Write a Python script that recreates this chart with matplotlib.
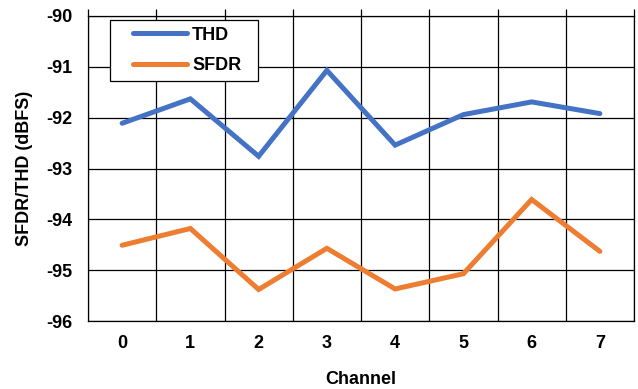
import matplotlib
matplotlib.use("Agg")
import matplotlib.pyplot as plt
from matplotlib.patches import Rectangle
import numpy as np

plt.rcParams['font.family'] = ['Liberation Sans', 'DejaVu Sans']
plt.rcParams['font.weight'] = 'bold'

channels = [0, 1, 2, 3, 4, 5, 6, 7]
thd = [-92.11, -91.63, -92.76, -91.07, -92.54, -91.94, -91.69, -91.92]
sfdr = [-94.51, -94.18, -95.38, -94.57, -95.37, -95.07, -93.61, -94.63]
y_ticks = [-96, -95, -94, -93, -92, -91, -90]

W, H = 638, 389
fig = plt.figure(figsize=(W / 100, H / 100), dpi=100)
ax_l, ax_r, ax_t, ax_b = 88, 634, 16, 321
aw, ah = ax_r - ax_l, ax_b - ax_t
ax = fig.add_axes([ax_l / W, 1 - ax_b / H, aw / W, ah / H])

ax.plot(channels, thd, color='#4472C4', lw=3.6, solid_capstyle='round',
        solid_joinstyle='miter', label='THD', zorder=3)
ax.plot(channels, sfdr, color='#ED7D31', lw=3.6, solid_capstyle='round',
        solid_joinstyle='miter', label='SFDR', zorder=3)

ax.set_xlim(-0.5, 7.5)
ax.set_ylim(-96, -90)
ax.set_xticks(channels)
ax.set_xticklabels([str(c) for c in channels])
ax.set_yticks(y_ticks)
ax.set_yticklabels([str(v) for v in y_ticks])

# category boundaries as vertical grid lines
bounds = np.arange(-0.5, 8.0, 1.0)
ax.set_xticks(bounds, minor=True)
ax.grid(True, which='minor', axis='x', color='black', lw=0.9)
ax.grid(True, which='major', axis='y', color='black', lw=0.9)
ax.tick_params(axis='x', which='major', length=0, pad=10, labelsize=13)
ax.tick_params(axis='x', which='minor', length=5, direction='out',
               top=True, bottom=False, width=0.9)
ax.tick_params(axis='y', which='major', length=0, pad=11, labelsize=13)
for s in ax.spines.values():
    s.set_color('black')
    s.set_linewidth(0.9)

ax.set_xlabel('Channel', fontsize=13, fontweight='bold', labelpad=14)
ax.set_ylabel('SFDR/THD (dBFS)', fontsize=13, fontweight='bold', labelpad=10)

# legend frame drawn separately so its padding can be set freely
frame = Rectangle(((110 - ax_l) / aw, (ax_b - 81) / ah), 148 / aw, 61 / ah,
                  transform=ax.transAxes, facecolor='white', edgecolor='black',
                  lw=0.9, zorder=4)
ax.add_patch(frame)
leg = ax.legend(loc='upper left',
                bbox_to_anchor=((133 - ax_l) / aw, (ax_b - 26.5) / ah),
                fontsize=13, frameon=False, handlelength=3.0, borderpad=0,
                labelspacing=0.77, handletextpad=0.28, borderaxespad=0)
leg.set_zorder(5)
for t in leg.get_texts():
    t.set_fontweight('bold')

fig.savefig('out.png', dpi=100)
